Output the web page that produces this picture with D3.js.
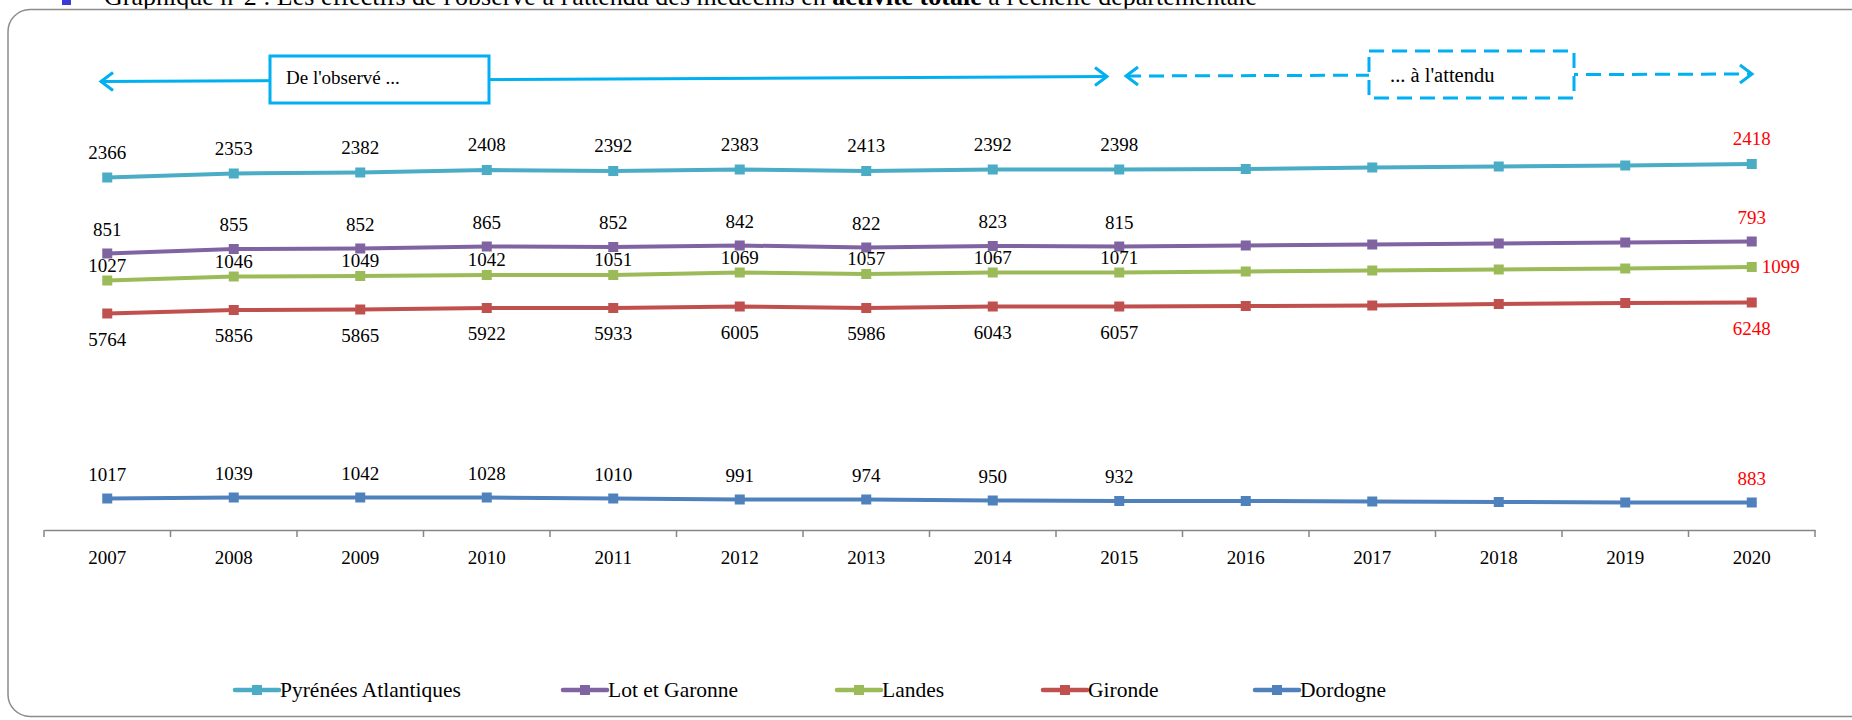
<!DOCTYPE html>
<html>
<head>
<meta charset="utf-8">
<script src="https://cdn.jsdelivr.net/npm/d3@7"></script>
<style>
	body { margin: 0; background: #fff; }
	svg { display: block; font-family: "Liberation Serif", "DejaVu Serif", serif; }
</style>
</head>
<body>
<div id="chart"></div>
<script>
// Years on the x axis
const years = ["2007", "2008", "2009", "2010", "2011", "2012", "2013", "2014", "2015", "2016", "2017", "2018", "2019", "2020"];

// Series names (legend order)
const seriesNames = ["Pyrénées Atlantiques", "Lot et Garonne", "Landes", "Gironde", "Dordogne"];

// Plotted level of each line (hidden axis)
const levelPA = [70.5, 71.3, 71.5, 72.0, 71.8, 72.1, 71.8, 72.1, 72.1, 72.2, 72.5, 72.7, 72.9, 73.2];
const levelLot = [55.3, 56.2, 56.3, 56.7, 56.6, 56.9, 56.5, 56.8, 56.7, 56.9, 57.1, 57.3, 57.5, 57.7];
const levelLandes = [49.9, 50.7, 50.8, 51.0, 51.0, 51.5, 51.2, 51.5, 51.5, 51.7, 51.9, 52.1, 52.3, 52.6];
const levelGironde = [43.3, 44.0, 44.1, 44.4, 44.4, 44.7, 44.4, 44.7, 44.7, 44.8, 44.9, 45.2, 45.4, 45.5];
const levelDordogne = [6.3, 6.5, 6.5, 6.5, 6.3, 6.1, 6.1, 5.9, 5.8, 5.8, 5.7, 5.6, 5.5, 5.5];

// Headcount labels (null = no label shown)
const labelPA = [2366, 2353, 2382, 2408, 2392, 2383, 2413, 2392, 2398, null, null, null, null, 2418];
const labelLot = [851, 855, 852, 865, 852, 842, 822, 823, 815, null, null, null, null, 793];
const labelLandes = [1027, 1046, 1049, 1042, 1051, 1069, 1057, 1067, 1071, null, null, null, null, 1099];
const labelGironde = [5764, 5856, 5865, 5922, 5933, 6005, 5986, 6043, 6057, null, null, null, null, 6248];
const labelDordogne = [1017, 1039, 1042, 1028, 1010, 991, 974, 950, 932, null, null, null, null, 883];

const levels = [levelPA, levelLot, levelLandes, levelGironde, levelDordogne];
const labels = [labelPA, labelLot, labelLandes, labelGironde, labelDordogne];

// styling
const colours = ["#4BACC6", "#8064A2", "#9BBB59", "#C0504D", "#4F81BD"];
const labelOffset = [-19, -18, -9, 32, -18];
const blue = "#00B0F0";

const width = 1852;
const height = 720;

const svg = d3.select('#chart')
				.append('svg')
				.attr('width', width)
				.attr('height', height);

// Title (cut off at top of picture, as in the source)
svg.append('rect')
		.attr('x', 62).attr('y', -4)
		.attr('width', 9).attr('height', 9)
		.attr('fill', '#3a3ad8');
const title = svg.append('text')
		.attr('x', 104)
		.attr('y', 5)
		.attr('font-size', 26)
		.attr('fill', '#000');
title.append('tspan').text("Graphique n°2 : Les effectifs de l'observé à l'attendu des médecins en ");
title.append('tspan').attr('font-weight', 'bold').text("activité totale");
title.append('tspan').text(" à l'échelle départementale");

// Frame
svg.append('rect')
		.attr('x', 8).attr('y', 9.5)
		.attr('width', 1900).attr('height', 707)
		.attr('rx', 22)
		.attr('fill', 'none')
		.attr('stroke', '#8c8c8c')
		.attr('stroke-width', 1.5);

// Scales
const xScale = d3.scaleBand()
				.domain(years)
				.range([44, 1815])
				.padding(0);

const yScale = d3.scaleLinear()
				.domain([0, 100])
				.range([530, 30]);

const xc = (year) => xScale(year) + xScale.bandwidth() / 2;

// X axis
const xAxis = svg.append('g')
		.attr('transform', 'translate(0, 530)')
		.call(d3.axisBottom(xScale).tickSize(0).tickPadding(21));
xAxis.select('.domain').attr('stroke', '#868686').attr('stroke-width', 1.5);
xAxis.selectAll('text')
		.attr('font-family', '"Liberation Serif", serif')
		.attr('font-size', 19)
		.attr('fill', '#000');

// tick marks on the band boundaries
const boundaries = years.map((y) => xScale(y)).concat([xScale.range()[1]]);
xAxis.selectAll('line.sep')
		.data(boundaries)
		.enter()
			.append('line')
				.attr('class', 'sep')
				.attr('x1', (d) => d).attr('x2', (d) => d)
				.attr('y1', 0).attr('y2', 7)
				.attr('stroke', '#868686')
				.attr('stroke-width', 1.5);

// Lines and markers
const line = d3.line()
		.x((d, i) => xc(years[i]))
		.y((d) => yScale(d));

const plot = svg.append('g');

levels.forEach((series, s) => {
	plot.append('path')
			.datum(series)
			.attr('d', line)
			.attr('fill', 'none')
			.attr('stroke', colours[s])
			.attr('stroke-width', 4);

	plot.selectAll('rect.m' + s)
			.data(series)
			.enter()
				.append('rect')
					.attr('class', 'm' + s)
					.attr('x', (d, i) => xc(years[i]) - 5)
					.attr('y', (d) => yScale(d) - 5)
					.attr('width', 10)
					.attr('height', 10)
					.attr('fill', colours[s]);
});

// Data labels
labels.forEach((series, s) => {
	series.forEach((v, i) => {
		if (v === null) return;
		const last = i === years.length - 1;
		const px = xc(years[i]);
		const py = yScale(levels[s][i]);
		const t = plot.append('text')
				.attr('font-size', 19)
				.attr('fill', last ? '#FF0000' : '#000')
				.text(v);
		if (last && s === 2) {
			// Landes 2020 label sits to the right of the marker
			t.attr('x', px + 10).attr('y', py + 6).attr('text-anchor', 'start');
		} else {
			t.attr('x', px).attr('y', py + labelOffset[s]).attr('text-anchor', 'middle');
		}
	});
});

// Annotation arrows
const ann = svg.append('g');

function chevron(g, x, y, dir) {
	g.append('path')
			.attr('d', `M${x - dir * 12},${y - 9} L${x},${y} L${x - dir * 12},${y + 9}`)
			.attr('fill', 'none')
			.attr('stroke', blue)
			.attr('stroke-width', 3);
}

// solid: de l'observé
ann.append('line')
		.attr('x1', 101).attr('y1', 81.5)
		.attr('x2', 1107).attr('y2', 76.5)
		.attr('stroke', blue).attr('stroke-width', 3);
chevron(ann, 101, 81.5, -1);
chevron(ann, 1107, 76.5, 1);
ann.append('rect')
		.attr('x', 270).attr('y', 56)
		.attr('width', 219).attr('height', 47)
		.attr('fill', '#fff')
		.attr('stroke', blue).attr('stroke-width', 3);
ann.append('text')
		.attr('x', 286).attr('y', 84)
		.attr('font-size', 19)
		.text("De l'observé ...");

// dashed: à l'attendu
ann.append('line')
		.attr('x1', 1126).attr('y1', 76)
		.attr('x2', 1752).attr('y2', 74)
		.attr('stroke', blue).attr('stroke-width', 3)
		.attr('stroke-dasharray', '15,8');
chevron(ann, 1126, 76, -1);
chevron(ann, 1752, 74, 1);
ann.append('rect')
		.attr('x', 1369).attr('y', 51)
		.attr('width', 205).attr('height', 47)
		.attr('fill', '#fff')
		.attr('stroke', blue).attr('stroke-width', 3)
		.attr('stroke-dasharray', '15,8');
ann.append('text')
		.attr('x', 1390).attr('y', 82)
		.attr('font-size', 20.5)
		.text("... à l'attendu");

// Legend
const legendX = [235, 563, 837, 1043, 1255];
const legend = svg.append('g');
seriesNames.forEach((name, s) => {
	const lx = legendX[s];
	legend.append('line')
			.attr('x1', lx).attr('x2', lx + 44)
			.attr('y1', 690).attr('y2', 690)
			.attr('stroke', colours[s])
			.attr('stroke-width', 4.5)
			.attr('stroke-linecap', 'round');
	legend.append('rect')
			.attr('x', lx + 17).attr('y', 685)
			.attr('width', 10).attr('height', 10)
			.attr('fill', colours[s]);
	legend.append('text')
			.attr('x', lx + 45).attr('y', 697)
			.attr('font-size', 21.5)
			.text(name);
});
</script>
</body>
</html>
